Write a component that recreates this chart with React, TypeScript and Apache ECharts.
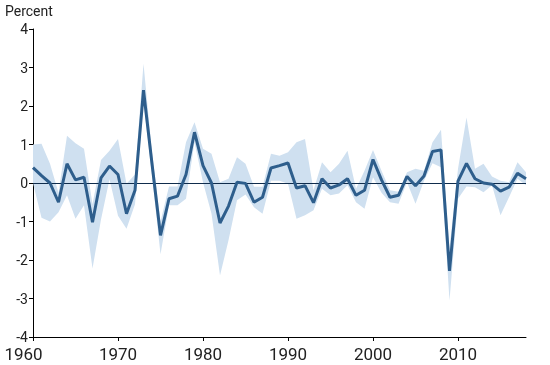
import React, { useEffect, useRef } from "react";
import * as echarts from "echarts";

const years: string[] = [];
for (let y = 1960; y <= 2018; y++) years.push(String(y));

const estimate = [
  0.40, 0.19, 0.00, -0.50, 0.50, 0.08, 0.15, -1.02, 0.13, 0.44,
  0.22, -0.80, -0.19, 2.41, 0.50, -1.36, -0.41, -0.34, 0.22, 1.32,
  0.45, 0.00, -1.04, -0.60, 0.02, -0.01, -0.50, -0.37, 0.39, 0.45,
  0.52, -0.13, -0.07, -0.51, 0.11, -0.13, -0.05, 0.11, -0.32, -0.19,
  0.61, 0.08, -0.37, -0.32, 0.17, -0.07, 0.18, 0.82, 0.86, -2.28,
  0.05, 0.51, 0.11, 0.00, -0.03, -0.21, -0.11, 0.25, 0.11,
];

const upper = [
  1.00, 1.02, 0.50, -0.25, 1.23, 1.03, 0.89, -0.55, 0.60, 0.84,
  1.14, -0.02, 0.22, 3.10, 0.80, -1.00, -0.09, -0.09, 1.06, 1.58,
  0.89, 0.76, 0.02, 0.11, 0.67, 0.50, -0.10, -0.10, 0.76, 0.71,
  0.80, 1.06, 1.14, -0.19, 0.54, 0.28, 0.50, 0.84, -0.15, 0.32,
  0.86, 0.32, -0.19, -0.23, 0.28, 0.37, 0.32, 1.06, 1.38, -1.70,
  0.37, 1.70, 0.37, 0.50, 0.17, 0.06, 0.02, 0.54, 0.28,
];

const lower = [
  0.00, -0.90, -1.00, -0.76, -0.32, -0.93, -0.58, -2.22, -0.95, 0.10,
  -0.85, -1.19, -0.55, 2.10, 0.20, -1.85, -0.58, -0.58, -0.41, 1.06,
  0.02, -0.80, -2.40, -1.49, -0.45, -0.30, -0.63, -0.80, 0.06, 0.06,
  -0.02, -0.93, -0.84, -0.71, -0.15, -0.32, -0.27, -0.06, -0.50, -0.67,
  0.15, -0.25, -0.50, -0.54, 0.02, -0.54, 0.06, 0.51, 0.41, -3.05,
  -0.41, -0.09, -0.11, -0.24, -0.06, -0.84, -0.37, 0.11, -0.06,
];

const yTicks = [-4, -3, -2, -1, 0, 1, 2, 3, 4];

export default function App() {
  const ref = useRef<HTMLDivElement>(null);
  useEffect(() => {
    if (!ref.current) return;
    const chart = echarts.init(ref.current, undefined, { renderer: "svg" });
    const width = upper.map((u, i) => +(u - lower[i]).toFixed(3));
    const isDecade = (_i: number, v: string) => Number(v) % 10 === 0;
    chart.setOption({
      animation: false,
      textStyle: { fontFamily: "Roboto" },
      grid: { left: 33, right: 24, top: 29, bottom: 28, containLabel: false },
      graphic: [
        {
          type: "text",
          left: 5,
          top: 4,
          style: { text: "Percent", fontFamily: "Roboto", fontSize: 14, fill: "#222" },
        },
      ],
      xAxis: {
        type: "category",
        data: years,
        boundaryGap: false,
        axisLine: { show: true, onZero: false, lineStyle: { color: "#000", width: 1 } },
        axisTick: { show: true, interval: isDecade, length: 4, lineStyle: { color: "#000" } },
        axisLabel: {
          interval: isDecade,
          color: "#222",
          fontSize: 17,
          margin: 8,
          formatter: (v: string) => (v === years[0] ? `{first|${v}}` : v),
          rich: {
            first: { fontSize: 17, color: "#222", fontFamily: "Roboto", padding: [0, 19, 0, 0] },
          },
        },
        splitLine: { show: false },
      },
      yAxis: {
        type: "value",
        min: yTicks[0],
        max: yTicks[yTicks.length - 1],
        interval: 1,
        axisLine: { show: true, lineStyle: { color: "#000", width: 1 } },
        axisTick: { show: true, length: 4, lineStyle: { color: "#000" } },
        axisLabel: { color: "#222", fontSize: 14, margin: 5 },
        splitLine: { show: false },
      },
      series: [
        {
          name: "lower",
          type: "line",
          data: lower,
          stack: "band",
          stackStrategy: "all",
          showSymbol: false,
          symbol: "none",
          lineStyle: { opacity: 0 },
          silent: true,
          z: 1,
        },
        {
          name: "range",
          type: "line",
          data: width,
          stack: "band",
          stackStrategy: "all",
          showSymbol: false,
          symbol: "none",
          lineStyle: { opacity: 0 },
          areaStyle: { color: "#cfe0f0", opacity: 1 },
          silent: true,
          z: 1,
        },
        {
          name: "estimate",
          type: "line",
          data: estimate,
          showSymbol: false,
          symbol: "none",
          lineStyle: { color: "#2e5e8c", width: 3 },
          z: 3,
          markLine: {
            silent: true,
            symbol: "none",
            label: { show: false },
            lineStyle: { color: "#0f2c4c", width: 1, type: "solid" },
            data: [{ yAxis: 0 }],
            z: 2,
          },
        },
      ],
    });
    return () => chart.dispose();
  }, []);
  return (
    <div
      ref={ref}
      style={{ position: "fixed", left: 0, top: 0, width: 550, height: 365 }}
    />
  );
}
